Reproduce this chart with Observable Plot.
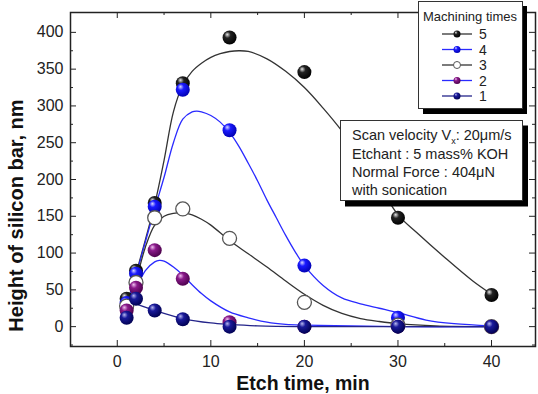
<!DOCTYPE html>
<html><head><meta charset="utf-8">
<script src="https://cdn.jsdelivr.net/npm/d3@7"></script>
<script src="https://cdn.jsdelivr.net/npm/@observablehq/plot@0.6"></script>
<style>body{margin:0;background:#fff}#chart{width:538px;height:394px}</style>
</head><body><div id="chart"></div>
<script>
// measured points: etch time (min) vs height (nm), per machining times
const times = [1, 2, 4, 7, 12, 20, 30, 40];
const h5 = [38, 76, 168, 331, 393, 346, 148, 43];
const h4 = [32, 72, 163, 322, 267, 83, 12, 0];
const h3 = [28, 60, 148, 160, 120, 33, 2, 0];
const h2 = [22, 53, 104, 65, 6, 0, 0, 0];
const h1 = [12, 38, 22, 10, 0, 0, 0, 0];

// fitted curves
const fit5T = [1, 2, 3, 4, 5, 6, 7, 8, 9, 10, 11, 12, 13, 14, 16, 18, 20, 22, 24, 26, 28, 30, 32, 35, 38, 40];
const fit5V = [30, 72, 118, 166, 226, 292, 328, 347, 358, 366, 371, 374, 375, 374, 364, 347, 325, 297, 266, 230, 192, 152, 128, 94, 62, 44];
const fit4T = [1, 2, 3, 4, 5, 6, 7, 8, 8.5, 9, 10, 11, 12, 13, 14, 15, 16, 17, 18, 19, 20, 22, 24, 26, 28, 30, 33, 36, 40];
const fit4V = [28, 70, 115, 160, 203, 250, 282, 292, 293, 292, 287, 278, 264, 245, 222, 198, 172, 148, 124, 102, 83, 56, 39, 31, 25, 19, 9, 4, 1];
const fit3T = [1, 2, 3, 4, 5, 6, 7, 8, 9, 10, 12, 14, 16, 18, 20, 22, 24, 26, 28, 30, 34, 40];
const fit3V = [22, 62, 108, 138, 150, 154, 155, 152, 146, 138, 117, 99, 81, 62, 44, 29, 18, 11, 7, 4, 1, 0];
const fit2T = [1, 2, 3, 4, 4.5, 5, 6, 7, 8, 9, 10, 12, 14, 16, 18, 20, 25, 30, 40];
const fit2V = [18, 50, 76, 88, 90, 89, 81, 70, 57, 45, 35, 20, 12, 6, 3, 2, 1, 0, 0];
const fit1T = [1, 2, 4, 7, 10, 12, 15, 20, 30, 40];
const fit1V = [36, 31, 22, 11, 5, 3, 1, 0, 0, 0];

const xMajor = [0, 10, 20, 30, 40];
const xMinor = [5, 15, 25, 35];
const yMajor = [0, 50, 100, 150, 200, 250, 300, 350, 400];
const yMinor = [-25, 25, 75, 125, 175, 225, 275, 325, 375];

const legendTitle = "Machining times";
const legendLabels = ["5", "4", "3", "2", "1"];
const noteLines = ["Etchant : 5 mass% KOH", "Normal Force : 404\u03bcN", "with sonication"];

const pts = (h) => times.map((t, i) => ({t, v: h[i]}));
const fit = (T, V) => T.map((t, i) => ({t, v: V[i]}));

const W = 538, H = 394, mL = 70, mR = 3, mT = 12, mB = 48;
const fw = W - mL - mR, fh = H - mT - mB;
const lineStyle = {x: "t", y: "v", strokeWidth: 1.3, curve: "catmull-rom"};
const dotStyle = {x: "t", y: "v", r: 7};

const svg = Plot.plot({
  width: W, height: H,
  marginLeft: mL, marginRight: mR, marginTop: mT, marginBottom: mB,
  style: {fontFamily: "'Liberation Sans', Arial, sans-serif", background: "white", color: "#222"},
  x: {domain: [-5, 44.7]},
  y: {domain: [-27, 427]},
  marks: [
    Plot.line(fit(fit5T, fit5V), {...lineStyle, stroke: "#333"}),
    Plot.line(fit(fit4T, fit4V), {...lineStyle, stroke: "#2a2aff"}),
    Plot.line(fit(fit3T, fit3V), {...lineStyle, stroke: "#333"}),
    Plot.line(fit(fit2T, fit2V), {...lineStyle, stroke: "#2a2aff"}),
    Plot.line(fit(fit1T, fit1V), {...lineStyle, stroke: "#24248a"}),
    Plot.dot(pts(h5), {...dotStyle, fill: "url(#g5)"}),
    Plot.dot(pts(h4), {...dotStyle, fill: "url(#g4)"}),
    Plot.dot(pts(h3), {...dotStyle, fill: "white", stroke: "#555", strokeWidth: 1.3}),
    Plot.dot(pts(h2), {...dotStyle, fill: "url(#g2)"}),
    Plot.dot(pts(h1), {...dotStyle, fill: "url(#g1)"}),
    Plot.tickY(yMajor, {y: d => d, insetRight: fw - 6, stroke: "#222"}),
    Plot.tickY(yMinor, {y: d => d, insetRight: fw - 3, stroke: "#222"}),
    Plot.tickY(yMajor, {y: d => d, insetLeft: fw - 6, stroke: "#222"}),
    Plot.tickY(yMinor, {y: d => d, insetLeft: fw - 3, stroke: "#222"}),
    Plot.tickX(xMajor, {x: d => d, insetTop: fh - 6, stroke: "#222"}),
    Plot.tickX(xMinor, {x: d => d, insetTop: fh - 3, stroke: "#222"}),
    Plot.tickX(xMajor, {x: d => d, insetBottom: fh - 6, stroke: "#222"}),
    Plot.tickX(xMinor, {x: d => d, insetBottom: fh - 3, stroke: "#222"}),
    Plot.axisY(yMajor, {tickSize: 0, tickPadding: 7, fontSize: 16, label: null}),
    Plot.axisX(xMajor, {tickSize: 0, tickPadding: 9, fontSize: 16, label: null}),
    Plot.frame({stroke: "#222", strokeWidth: 1.5}),
    Plot.text(["Etch time, min"], {frameAnchor: "bottom", lineAnchor: "middle", dy: 37, fontSize: 19.5, fontWeight: "bold", fill: "#111"}),
    Plot.text(["Height of silicon bar, nm"], {frameAnchor: "left", textAnchor: "middle", lineAnchor: "middle", dx: -54, dy: 36, rotate: -90, fontSize: 20, fontWeight: "bold", fill: "#111"})
  ]
});

const S = d3.select(svg);
const defs = S.insert("defs", ":first-child");
function grad(id, hi, mid, dark) {
  const g = defs.append("radialGradient").attr("id", id)
    .attr("cx", "40%").attr("cy", "38%").attr("r", "65%").attr("fx", "33%").attr("fy", "28%");
  g.append("stop").attr("offset", "0%").attr("stop-color", hi);
  g.append("stop").attr("offset", "35%").attr("stop-color", mid);
  g.append("stop").attr("offset", "100%").attr("stop-color", dark);
}
grad("g5", "#e8e8e8", "#222", "#000");
grad("g4", "#d8d8ff", "#1a1aff", "#0000b0");
grad("g2", "#f0c0f0", "#8a1a8a", "#4a004a");
grad("g1", "#b8b8f0", "#1a1a9a", "#000050");

// annotation box
const note = S.append("g").attr("font-family", "'Liberation Sans', Arial, sans-serif").attr("font-size", 14.5).attr("fill", "#222").attr("text-anchor", "start");
note.append("rect").attr("x", 345).attr("y", 125.5).attr("width", 183).attr("height", 81).attr("fill", "#000");
note.append("rect").attr("x", 340.5).attr("y", 120.5).attr("width", 182).attr("height", 80).attr("fill", "white").attr("stroke", "#333");
const t0 = note.append("text").attr("x", 352).attr("y", 140);
t0.append("tspan").text("Scan velocity V");
t0.append("tspan").attr("font-size", 9).attr("dy", 4).text("x");
t0.append("tspan").attr("dy", -4).text(": 20\u03bcm/s");
noteLines.forEach((s, i) => note.append("text").attr("x", 352).attr("y", [159, 177, 195][i]).text(s));

// legend
const lg = S.append("g").attr("font-family", "'Liberation Sans', Arial, sans-serif").attr("fill", "#222").attr("text-anchor", "start");
lg.append("rect").attr("x", 423).attr("y", 6).attr("width", 104).attr("height", 108).attr("fill", "#000");
lg.append("rect").attr("x", 418.5).attr("y", 1.5).attr("width", 104).attr("height", 107).attr("fill", "white").attr("stroke", "#333");
lg.append("text").attr("x", 470).attr("y", 21).attr("text-anchor", "middle").attr("font-size", 13).text(legendTitle);
const legStroke = ["#333", "#2a2aff", "#333", "#2a2aff", "#24248a"];
const legFill = ["url(#g5)", "url(#g4)", "white", "url(#g2)", "url(#g1)"];
legendLabels.forEach((lab, i) => {
  const y = 34 + i * 15.5;
  lg.append("line").attr("x1", 442).attr("x2", 472).attr("y1", y).attr("y2", y).attr("stroke", legStroke[i]).attr("stroke-width", 1.3);
  lg.append("circle").attr("cx", 457).attr("cy", y).attr("r", 3.5).attr("fill", legFill[i]).attr("stroke", i === 2 ? "#555" : "none");
  lg.append("text").attr("x", 479).attr("y", y).attr("dy", "0.36em").attr("font-size", 14).text(lab);
});

document.getElementById("chart").appendChild(svg);
</script>
</body></html>
